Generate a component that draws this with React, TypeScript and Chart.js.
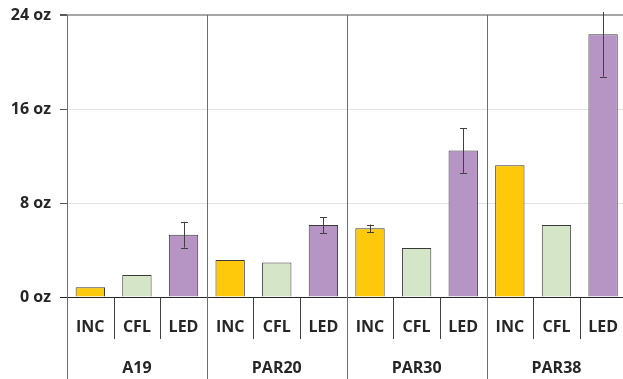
import React, { useEffect, useRef } from "react";
import { Chart, registerables } from "chart.js";

Chart.register(...registerables);

const categories = ["INC", "CFL", "LED"];
const groups = ["A19", "PAR20", "PAR30", "PAR38"];
const incValues = [0.82, 3.15, 5.85, 11.22];
const cflValues = [1.87, 2.94, 4.17, 6.12];
const ledValues = [5.3, 6.12, 12.47, 22.36];
const incErrors: (number | null)[] = [null, null, 0.32, null];
const cflErrors: (number | null)[] = [null, null, null, null];
const ledErrors: (number | null)[] = [1.1, 0.68, 1.9, 3.6];
const yTicks = [0, 8, 16, 24];

const colors = ["#FDC90A", "#D4E6C7", "#B695C5"];
const FONT = "'Open Sans', Lato, sans-serif";
const FS = 16;

export default function App() {
  const ref = useRef<HTMLCanvasElement | null>(null);
  useEffect(() => {
    if (!ref.current) return;
    const labels: string[] = [];
    const data: number[] = [];
    const errs: (number | null)[] = [];
    const bg: string[] = [];
    groups.forEach((g, gi) => {
      const vals = [incValues[gi], cflValues[gi], ledValues[gi]];
      const es = [incErrors[gi], cflErrors[gi], ledErrors[gi]];
      categories.forEach((c, ci) => {
        labels.push(c);
        data.push(vals[ci]);
        errs.push(es[ci]);
        bg.push(colors[ci]);
      });
    });

    const decor = {
      id: "decor",
      beforeDatasetsDraw(chart: any) {
        const { ctx, chartArea, scales } = chart;
        const x = scales.x;
        const H = chart.height;
        ctx.save();
        ctx.strokeStyle = "#6e6e6e";
        ctx.lineWidth = 1;
        for (let g = 0; g < groups.length; g++) {
          const px =
            g === 0
              ? chartArea.left
              : (x.getPixelForValue(g * 3 - 1) + x.getPixelForValue(g * 3)) / 2;
          const ax = Math.round(px) + 0.5;
          ctx.beginPath();
          ctx.moveTo(ax, chartArea.top);
          ctx.lineTo(ax, H);
          ctx.stroke();
        }
        ctx.strokeStyle = "#404040";
        for (let g = 0; g < groups.length; g++) {
          for (let c = 1; c < categories.length; c++) {
            const i = g * 3 + c;
            const px = (x.getPixelForValue(i - 1) + x.getPixelForValue(i)) / 2;
            const ax = Math.round(px) + 0.5;
            ctx.beginPath();
            ctx.moveTo(ax, chartArea.bottom);
            ctx.lineTo(ax, chartArea.bottom + 42);
            ctx.stroke();
          }
        }
        ctx.restore();
      },
      afterDatasetsDraw(chart: any) {
        const { ctx, chartArea, scales } = chart;
        const x = scales.x;
        const y = scales.y;
        ctx.save();
        ctx.strokeStyle = "#404040";
        ctx.lineWidth = 1;
        errs.forEach((e, i) => {
          if (e == null) return;
          const cx = Math.round(x.getPixelForValue(i)) + 0.5;
          const v = data[i];
          let top = y.getPixelForValue(v + e);
          const bot = y.getPixelForValue(v - e);
          let cap = true;
          if (top < chartArea.top - 3) {
            top = chartArea.top - 3;
            cap = false;
          }
          ctx.beginPath();
          ctx.moveTo(cx, top);
          ctx.lineTo(cx, bot);
          if (cap) {
            ctx.moveTo(cx - 3.5, Math.round(top) + 0.5);
            ctx.lineTo(cx + 3.5, Math.round(top) + 0.5);
          }
          ctx.moveTo(cx - 3.5, Math.round(bot) + 0.5);
          ctx.lineTo(cx + 3.5, Math.round(bot) + 0.5);
          ctx.stroke();
        });
        ctx.restore();
      },
    };

    const chart = new Chart(ref.current, {
      type: "bar",
      data: {
        labels,
        datasets: [
          {
            data,
            backgroundColor: bg,
            borderColor: "#3a3a3a",
            borderWidth: 1,
            barPercentage: 0.63,
            categoryPercentage: 1,
            xAxisID: "x",
          },
        ],
      },
      options: {
        responsive: false,
        animation: false,
        layout: { padding: { top: 15, right: 0, bottom: 0, left: 0 } },
        plugins: { legend: { display: false }, tooltip: { enabled: false } },
        scales: {
          x: {
            type: "category",
            position: "bottom",
            weight: 0,
            grid: { display: false, drawTicks: false },
            border: { display: false },
            ticks: {
              color: "#262626",
              font: { family: FONT, size: FS, weight: "bold" },
              padding: 21,
              maxRotation: 0,
              autoSkip: false,
            },
            afterFit: (s: any) => {
              s.height = 42;
            },
          },
          x2: {
            type: "category",
            position: "bottom",
            weight: 1,
            labels: groups,
            offset: true,
            grid: { display: false, drawTicks: false },
            border: { display: false },
            ticks: {
              color: "#262626",
              font: { family: FONT, size: FS, weight: "bold" },
              padding: 20,
              maxRotation: 0,
              autoSkip: false,
            },
            afterFit: (s: any) => {
              s.height = 40;
            },
          },
          y: {
            min: 0,
            max: 24,
            afterBuildTicks: (s: any) => {
              s.ticks = yTicks.map((v) => ({ value: v }));
            },
            border: { display: false },
            grid: {
              color: (c: any) =>
                c.tick && c.tick.value === 0
                  ? "#262626"
                  : c.tick && c.tick.value === 24
                  ? "#a6a6a6"
                  : "#e3e3e3",
              lineWidth: (c: any) => (c.tick && c.tick.value === 24 ? 2 : 1),
              tickColor: (c: any) =>
                c.tick && c.tick.value === 0 ? "#262626" : "#595959",
              tickLength: 7,
              drawTicks: true,
            },
            ticks: {
              color: "#262626",
              font: { family: FONT, size: FS, weight: "bold" },
              padding: 9,
              callback: (v: any) => v + " oz",
            },
            afterFit: (s: any) => {
              s.width = 67;
              s.paddingTop = 0;
              s.paddingBottom = 0;
            },
          },
        },
      },
      plugins: [decor],
    } as any);
    return () => chart.destroy();
  }, []);

  return (
    <div
      style={{
        position: "fixed",
        left: 0,
        top: 0,
        width: 623,
        height: 379,
        overflow: "hidden",
        background: "#fff",
      }}
    >
      <canvas ref={ref} width={639} height={379} style={{ display: "block" }} />
    </div>
  );
}
